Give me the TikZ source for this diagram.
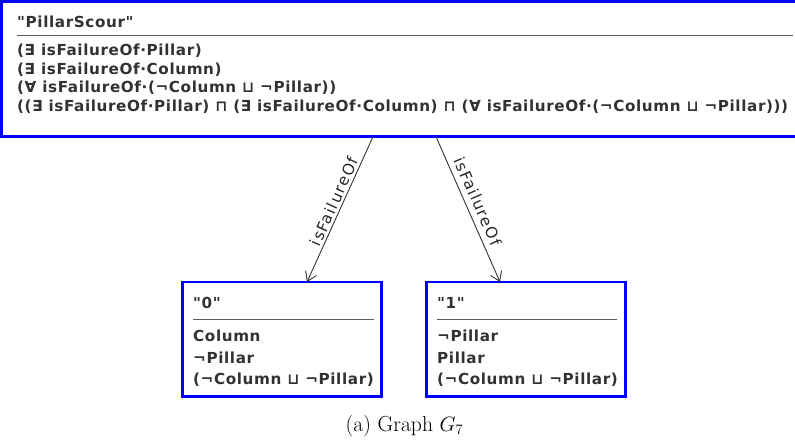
\documentclass[tikz,border=0pt]{standalone}
\usepackage{fontspec}
\usetikzlibrary{arrows.meta}
\newfontfamily\boxfont[LetterSpace=4]{DejaVu Sans}
\newfontfamily\lblfont[LetterSpace=9]{DejaVu Sans}
\definecolor{umlblue}{RGB}{0,0,255}
\definecolor{txtgray}{RGB}{50,50,50}
\definecolor{sepgray}{RGB}{90,90,90}
\tikzset{
  cls/.style={draw=umlblue, line width=2.6pt, inner sep=0pt, outer sep=0pt, rectangle, anchor=north west},
  ln/.style={anchor=base west, inner sep=0pt, text=txtgray, font=\boxfont\bfseries\fontsize{15.2}{18}\selectfont},
  seprule/.style={draw=sepgray, line width=1.4pt},
  edge/.style={draw=black!80, line width=0.9pt, -{Straight Barb[length=9pt,width=12pt]}},
  elabel/.style={font=\lblfont\fontsize{15.5}{18}\selectfont, text=black!85, sloped, inner sep=1pt}
}
\begin{document}
\begin{tikzpicture}[x=1pt,y=-1pt]
\useasboundingbox (0,0) rectangle (795,443);
% top class box
\node[cls, minimum width=797pt, minimum height=135.4pt] (top) at (1.3,1.3) {};
\node[ln] (tt) at (17,27.5) {"PillarScour"};
\draw[seprule] (17,35.5) -- (793,35.5);
\node[ln] (t1) at (17,56) {(∃ isFailureOf·Pillar)};
\node[ln] (t2) at (17,74.5) {(∃ isFailureOf·Column)};
\node[ln] (t3) at (17,93) {(∀ isFailureOf·(¬Column ⊔ ¬Pillar))};
\node[ln] (t4) at (17,112) {((∃ isFailureOf·Pillar) ⊓ (∃ isFailureOf·Column) ⊓ (∀ isFailureOf·(¬Column ⊔ ¬Pillar)))};
% bottom left box
\node[cls, minimum width=199pt, minimum height=114.5pt] (n0) at (182.5,282) {};
\node[ln] (a0) at (193,308.5) {"0"};
\draw[seprule] (193,319.5) -- (374,319.5);
\node[ln] (a1) at (193,342) {Column};
\node[ln] (a2) at (193,363) {¬Pillar};
\node[ln] (a3) at (193,384.5) {(¬Column ⊔ ¬Pillar)};
% bottom right box
\node[cls, minimum width=199pt, minimum height=114.5pt] (n1) at (426.5,282) {};
\node[ln] (b0) at (437,308.5) {"1"};
\draw[seprule] (437,319.5) -- (617,319.5);
\node[ln] (b1) at (437,342) {¬Pillar};
\node[ln] (b2) at (437,363) {Pillar};
\node[ln] (b3) at (437,384.5) {(¬Column ⊔ ¬Pillar)};
% edges
\draw[edge] ([xshift=-26.8pt]top.south) -- node[elabel, above=1pt, pos=0.47] (l0) {isFailureOf} ([xshift=25pt]n0.north);
\draw[edge] ([xshift=36.2pt]top.south) -- node[elabel, above=5pt, pos=0.48] (l1) {isFailureOf} ([xshift=-26pt]n1.north);
% caption
\node[font=\fontsize{21.7}{26}\selectfont, anchor=base, inner sep=0pt] (cap) at (404.5,431.3) {(a) Graph $G_7$};
\end{tikzpicture}
\end{document}
